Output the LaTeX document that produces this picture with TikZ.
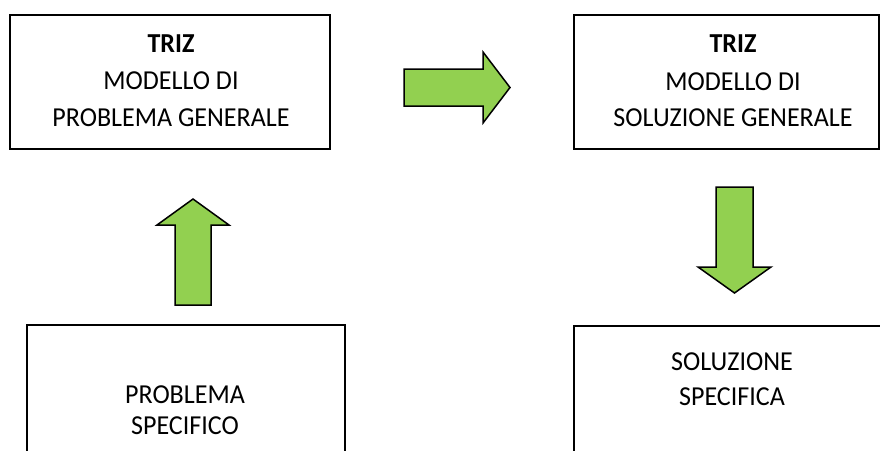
\documentclass[tikz,border=0pt]{standalone}
\usepackage{fontspec}
\setmainfont{Carlito}[FakeStretch=0.95]
\usetikzlibrary{positioning}
\definecolor{arrowgreen}{RGB}{146, 208, 80}

\begin{document}
\begin{tikzpicture}[x=1pt, y=-1pt,
    box/.style={draw, line width=1.5pt, rectangle, anchor=north west, inner sep=0pt},
    txt/.style={anchor=base, font=\fontsize{27.4}{31}\selectfont},
    blockarrow/.style={draw, line width=1.5pt, fill=arrowgreen, line join=miter}]
  \useasboundingbox (0,0) rectangle (880,450);
  \clip (0,0) rectangle (880,450);

  % General problem model
  \node[box, minimum width=320pt, minimum height=134pt] (probgen) at (9,14) {};
  \node[txt, font=\fontsize{27.4}{31}\selectfont\bfseries] (probtriz) at (171,52) {TRIZ};
  \node[txt] (probmod) at (171,89) {MODELLO DI};
  \node[txt] (probgenlbl) at (171,126) {PROBLEMA GENERALE};

  % General solution model
  \node[box, minimum width=305pt, minimum height=134pt] (solgen) at (573,14) {};
  \node[txt, font=\fontsize{27.4}{31}\selectfont\bfseries] (soltriz) at (733,52) {TRIZ};
  \node[txt] (solmod) at (733,90) {MODELLO DI};
  \node[txt] (solgenlbl) at (733,126) {SOLUZIONE GENERALE};

  % Specific problem
  \node[box, minimum width=318pt, minimum height=160pt] (probspec) at (26,324) {};
  \node[txt] (probspec1) at (185,403) {PROBLEMA};
  \node[txt] (probspec2) at (185,434) {SPECIFICO};

  % Specific solution
  \node[box, minimum width=330pt, minimum height=160pt] (solspec) at (573,325) {};
  \node[txt] (solspec1) at (732,370) {SOLUZIONE};
  \node[txt] (solspec2) at (732,405) {SPECIFICA};

  % Block arrows
  \draw[blockarrow] (404,69) -- (483,69) -- (483,52) -- (510,87.5)
    -- (483,123) -- (483,106) -- (404,106) -- cycle;
  \draw[blockarrow] (175,305) -- (175,225) -- (157,225) -- (193,199)
    -- (229,225) -- (211,225) -- (211,305) -- cycle;
  \draw[blockarrow] (716,187) -- (753,187) -- (753,267) -- (771,267)
    -- (734.5,293) -- (698,267) -- (716,267) -- cycle;
\end{tikzpicture}
\end{document}
